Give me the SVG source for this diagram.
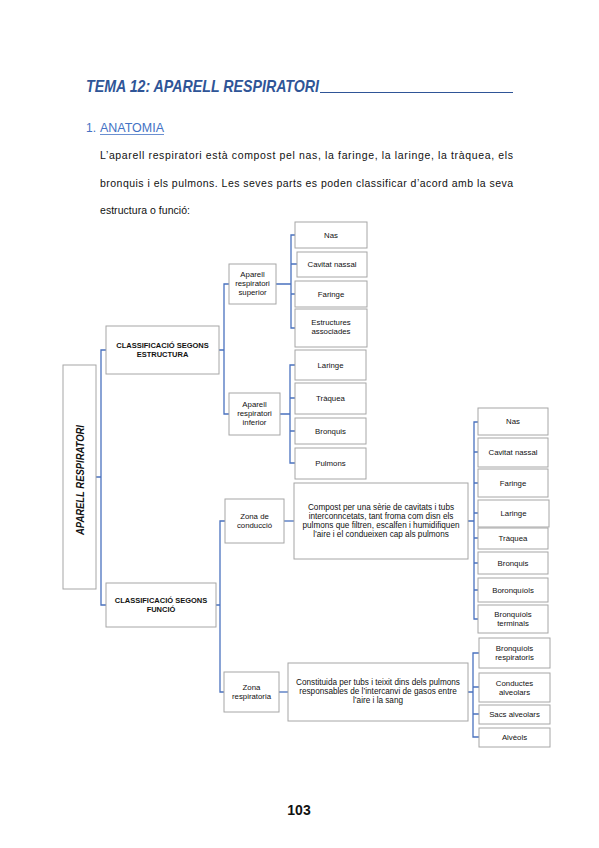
<svg xmlns="http://www.w3.org/2000/svg" width="599" height="848" viewBox="0 0 599 848">
<style>
.bg{fill:#ffffff}
.box{fill:#ffffff;stroke:#a6a6a6;stroke-width:1}
.con{fill:none;stroke:#4a72bf;stroke-width:1.3}
.t{font-family:"Liberation Sans",Arial,sans-serif;font-size:7.8px;fill:#111;text-anchor:middle}
.d{font-family:"Liberation Sans",Arial,sans-serif;font-size:8.2px;fill:#111;text-anchor:middle}
.tb{font-family:"Liberation Sans",Arial,sans-serif;font-size:7.5px;font-weight:bold;fill:#111;text-anchor:middle}
.rt{font-family:"Liberation Sans",Arial,sans-serif;font-size:11px;font-weight:bold;font-style:italic;fill:#111;text-anchor:middle}
.p{font-family:"Liberation Sans",Arial,sans-serif;font-size:10.5px;fill:#111}
</style>
<rect class="bg" x="0" y="0" width="599" height="848"/>
<g id="header">
<text x="86" y="92" font-family="Liberation Sans, Arial, sans-serif" font-size="17" font-weight="bold" font-style="italic" fill="#2f5597" textLength="233" lengthAdjust="spacingAndGlyphs">TEMA 12: APARELL RESPIRATORI</text>
<line x1="320" y1="92.5" x2="513" y2="92.5" stroke="#2f5597" stroke-width="1.2"/>
<text x="86" y="132" font-family="Liberation Sans, Arial, sans-serif" font-size="12" fill="#4472c4">1.</text>
<text x="100" y="132" font-family="Liberation Sans, Arial, sans-serif" font-size="12" fill="#4472c4" textLength="64" lengthAdjust="spacingAndGlyphs">ANATOMIA</text>
<line x1="100" y1="134.5" x2="164" y2="134.5" stroke="#4472c4" stroke-width="0.8"/>
<text class="p" x="100" y="159" textLength="413" lengthAdjust="spacing">L’aparell respiratori està compost pel nas, la faringe, la laringe, la tràquea, els</text>
<text class="p" x="100" y="187" textLength="413" lengthAdjust="spacing">bronquis i els pulmons. Les seves parts es poden classificar d’acord amb la seva</text>
<text class="p" x="100" y="214" textLength="90" lengthAdjust="spacing">estructura o funció:</text>
</g>
<g id="connectors">
<path class="con" d="M96,477 H101 M106,350 H101 V605 H106"/>
<path class="con" d="M219,350 H224 M229,284 H224 V414 H229"/>
<path class="con" d="M216,605 H220 M225,521 H220 V692 H224"/>
<path class="con" d="M276,284 H291 M295,235 H291 V328 H295 M297,264 H291 M295,294 H291"/>
<path class="con" d="M280,414 H290 M295,365 H290 V463 H295 M295,398 H290 M295,431 H290"/>
<path class="con" d="M284,521 H294"/>
<path class="con" d="M468,521 H474 M478,422 H474 V619 H478 M478,452 H474 M478,483 H474 M478,513 H474 M478,538 H474 M478,563 H474 M478,590 H474"/>
<path class="con" d="M279,692 H288"/>
<path class="con" d="M468,692 H473 M479,653 H473 V737 H479 M479,687 H473 M479,714 H473"/>
</g>
<g id="root">
<rect class="box" x="63" y="365" width="33" height="224"/>
<text class="rt" transform="translate(83.5,480) rotate(-90)" textLength="110" lengthAdjust="spacingAndGlyphs">APARELL RESPIRATORI</text>
</g>
<g id="estructura">
<rect class="box" x="106" y="326" width="113" height="48"/>
<text class="tb" x="162.5" y="348">CLASSIFICACIÓ SEGONS</text>
<text class="tb" x="162.5" y="357">ESTRUCTURA</text>
</g>
<g id="funcio">
<rect class="box" x="106" y="583" width="110" height="44"/>
<text class="tb" x="161" y="603">CLASSIFICACIÓ SEGONS</text>
<text class="tb" x="161" y="612">FUNCIÓ</text>
</g>
<g id="superior">
<rect class="box" x="229" y="264" width="47" height="40"/>
<text class="t" x="252.5" y="277">Aparell</text>
<text class="t" x="252.5" y="286">respiratori</text>
<text class="t" x="252.5" y="295">superior</text>
</g>
<g id="inferior">
<rect class="box" x="229" y="393" width="51" height="42"/>
<text class="t" x="254.5" y="407">Aparell</text>
<text class="t" x="254.5" y="416">respiratori</text>
<text class="t" x="254.5" y="425">inferior</text>
</g>
<g id="sup-nas"><rect class="box" x="295" y="222" width="72" height="26"/><text class="t" x="331" y="237.5">Nas</text></g>
<g id="sup-cavitat"><rect class="box" x="297" y="252" width="70" height="25"/><text class="t" x="332" y="267">Cavitat nassal</text></g>
<g id="sup-faringe"><rect class="box" x="295" y="281" width="72" height="26"/><text class="t" x="331" y="296.5">Faringe</text></g>
<g id="sup-estructures"><rect class="box" x="295" y="309" width="72" height="38"/><text class="t" x="331" y="325">Estructures</text><text class="t" x="331" y="334">associades</text></g>
<g id="inf-laringe"><rect class="box" x="295" y="350" width="71" height="30"/><text class="t" x="330.5" y="367.5">Laringe</text></g>
<g id="inf-traquea"><rect class="box" x="295" y="383" width="71" height="31"/><text class="t" x="330.5" y="401">Tràquea</text></g>
<g id="inf-bronquis"><rect class="box" x="295" y="418" width="71" height="26"/><text class="t" x="330.5" y="433.5">Bronquis</text></g>
<g id="inf-pulmons"><rect class="box" x="295" y="448" width="71" height="31"/><text class="t" x="330.5" y="466">Pulmons</text></g>
<g id="conduccio">
<rect class="box" x="225" y="499" width="59" height="44"/>
<text class="t" x="254.5" y="519">Zona de</text>
<text class="t" x="254.5" y="528">conducció</text>
</g>
<g id="conduccio-desc">
<rect class="box" x="294" y="483" width="174" height="76"/>
<text class="d" x="381" y="510">Compost per una sèrie de cavitats i tubs</text>
<text class="d" x="381" y="519">interconncetats, tant froma com disn els</text>
<text class="d" x="381" y="528">pulmons que filtren, escalfen i humidifiquen</text>
<text class="d" x="381" y="537">l’aire i el condueixen cap als pulmons</text>
</g>
<g id="c-nas"><rect class="box" x="478" y="408" width="70" height="27"/><text class="t" x="513" y="424">Nas</text></g>
<g id="c-cavitat"><rect class="box" x="478" y="438" width="70" height="29"/><text class="t" x="513" y="455">Cavitat nassal</text></g>
<g id="c-faringe"><rect class="box" x="478" y="469" width="70" height="28"/><text class="t" x="513" y="485.5">Faringe</text></g>
<g id="c-laringe"><rect class="box" x="478" y="500" width="71" height="27"/><text class="t" x="513.5" y="516">Laringe</text></g>
<g id="c-traquea"><rect class="box" x="478" y="528" width="70" height="21"/><text class="t" x="513" y="541">Tràquea</text></g>
<g id="c-bronquis"><rect class="box" x="478" y="552" width="70" height="22"/><text class="t" x="513" y="565.5">Bronquis</text></g>
<g id="c-boronquiols"><rect class="box" x="478" y="578" width="70" height="24"/><text class="t" x="513" y="592.5">Boronquíols</text></g>
<g id="c-terminals"><rect class="box" x="478" y="605" width="70" height="28"/><text class="t" x="513" y="617">Bronquíols</text><text class="t" x="513" y="626">terminals</text></g>
<g id="respiratoria">
<rect class="box" x="224" y="672" width="55" height="40"/>
<text class="t" x="251.5" y="690">Zona</text>
<text class="t" x="251.5" y="699">respiratoria</text>
</g>
<g id="respiratoria-desc">
<rect class="box" x="288" y="663" width="180" height="58"/>
<text class="d" x="378" y="685">Constituida per tubs i teixit dins dels pulmons</text>
<text class="d" x="378" y="694">responsables de l’intercanvi de gasos entre</text>
<text class="d" x="378" y="703">l’aire i la sang</text>
</g>
<g id="r-bronquiols"><rect class="box" x="479" y="638" width="71" height="30"/><text class="t" x="514.5" y="651">Bronquíols</text><text class="t" x="514.5" y="660">respiratoris</text></g>
<g id="r-conductes"><rect class="box" x="479" y="673" width="71" height="29"/><text class="t" x="514.5" y="685.5">Conductes</text><text class="t" x="514.5" y="694.5">alveolars</text></g>
<g id="r-sacs"><rect class="box" x="479" y="705" width="71" height="19"/><text class="t" x="514.5" y="717">Sacs alveolars</text></g>
<g id="r-alveols"><rect class="box" x="479" y="728" width="71" height="19"/><text class="t" x="514.5" y="740">Alvèols</text></g>
<g id="footer">
<text x="299" y="815" font-family="Liberation Sans, Arial, sans-serif" font-size="14" font-weight="bold" fill="#111" text-anchor="middle">103</text>
</g>
</svg>
